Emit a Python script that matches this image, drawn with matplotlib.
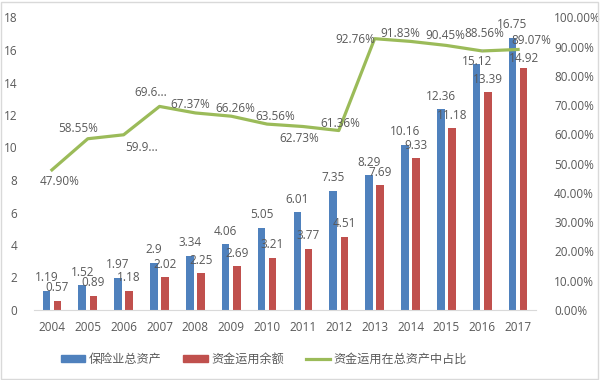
import matplotlib
matplotlib.use('Agg')
import matplotlib.pyplot as plt
from matplotlib.patches import Patch, Rectangle
from matplotlib.lines import Line2D
import numpy as np

years = ['2004', '2005', '2006', '2007', '2008', '2009', '2010',
         '2011', '2012', '2013', '2014', '2015', '2016', '2017']
total_assets = [1.19, 1.52, 1.97, 2.9, 3.34, 4.06, 5.05,
                6.01, 7.35, 8.29, 10.16, 12.36, 15.12, 16.75]
fund_balance = [0.57, 0.89, 1.18, 2.02, 2.25, 2.69, 3.21,
                3.77, 4.51, 7.69, 9.33, 11.18, 13.39, 14.92]
ratio = [47.90, 58.55, 59.90, 69.60, 67.37, 66.26, 63.56,
         62.73, 61.36, 92.76, 91.83, 90.45, 88.56, 89.07]
ratio_labels = ['47.90%', '58.55%', '59.9...', '69.6...', '67.37%', '66.26%', '63.56%',
                '62.73%', '61.36%', '92.76%', '91.83%', '90.45%', '88.56%', '89.07%']
series_names = ['保险业总资产', '资金运用余额', '资金运用在总资产中占比']

plt.rcParams['font.family'] = ['Open Sans', 'Noto Sans CJK SC', 'DejaVu Sans']
txt_col = '#595959'
blue = '#4F81BD'
red = '#C0504D'
green = '#9BBB59'

fig = plt.figure(figsize=(6, 3.8), dpi=100)
ax = fig.add_axes([34 / 600, 1 - 310 / 380, 502 / 600, 292.5 / 380])
ax2 = ax.twinx()

x = np.arange(len(years))
w = 0.21
ax.bar(x - 0.155, total_assets, w, color=blue, zorder=2)
ax.bar(x + 0.155, fund_balance, w, color=red, zorder=2)

ax.set_xlim(-0.5, len(years) - 0.5)
ax.set_ylim(0, 18)
ax.set_yticks(range(0, 19, 2))
ax.set_xticks(x)
ax.set_xticklabels(years)
for s in ['top', 'left', 'right']:
    ax.spines[s].set_visible(False)
ax.spines['bottom'].set_color('#D9D9D9')
ax.tick_params(length=0, colors=txt_col, labelsize=8.5)
ax.tick_params(axis='y', pad=12)
ax.tick_params(axis='x', pad=8)

# bar data labels (pixel offsets above bar top)
blue_off = {12: 3}
red_off = {13: 9.5}
for i in range(len(years)):
    ax.annotate(f'{total_assets[i]:g}', (x[i] - 0.155, total_assets[i]),
                xytext=(0, blue_off.get(i, 13)), textcoords='offset pixels',
                ha='center', va='center', fontsize=8.5, color=txt_col)
    ax.annotate(f'{fund_balance[i]:g}', (x[i] + 0.155, fund_balance[i]),
                xytext=(0, red_off.get(i, 13)), textcoords='offset pixels',
                ha='center', va='center', fontsize=8.5, color=txt_col)

ax2.plot(x, ratio, color=green, lw=2.3, solid_joinstyle='round', zorder=3)
ax2.set_ylim(0, 100)
ax2.set_yticks(range(0, 101, 10))
ax2.set_yticklabels([f'{v:.2f}%' for v in range(0, 101, 10)])
for s in ['top', 'left', 'right', 'bottom']:
    ax2.spines[s].set_visible(False)
ax2.tick_params(length=0, colors=txt_col, labelsize=8.5, pad=13)

line_off = [(8, -12), (-10, 10), (18, -13), (-9, 14), (-5, 8), (4, 8), (8, 8),
            (-4, -12), (2, 7.5), (-19, -1), (-10, 8), (-1, 10), (2, 17), (13, 9)]
for i in range(len(years)):
    props = None
    if i == 12:
        props = dict(arrowstyle='-', color='#A6A6A6', lw=0.8, shrinkA=5, shrinkB=2)
    ax2.annotate(ratio_labels[i], (x[i], ratio[i]), xytext=line_off[i],
                 textcoords='offset pixels', ha='center', va='center',
                 fontsize=8.5, color=txt_col, arrowprops=props)

handles = [Patch(color=blue), Patch(color=red), Line2D([], [], color=green, lw=2.3)]
fig.legend(handles, series_names, loc='center', bbox_to_anchor=(264 / 600, 1 - 359 / 380),
           ncol=3, frameon=False, fontsize=8.7, labelcolor=txt_col,
           handlelength=2.0, handleheight=0.55, handletextpad=0.3, columnspacing=1.8)

fig.patches.append(Rectangle((0.002, 0.003), 0.994, 0.993, transform=fig.transFigure,
                             fill=False, edgecolor='#D9D9D9', lw=1))

fig.savefig('out.png', dpi=100)
